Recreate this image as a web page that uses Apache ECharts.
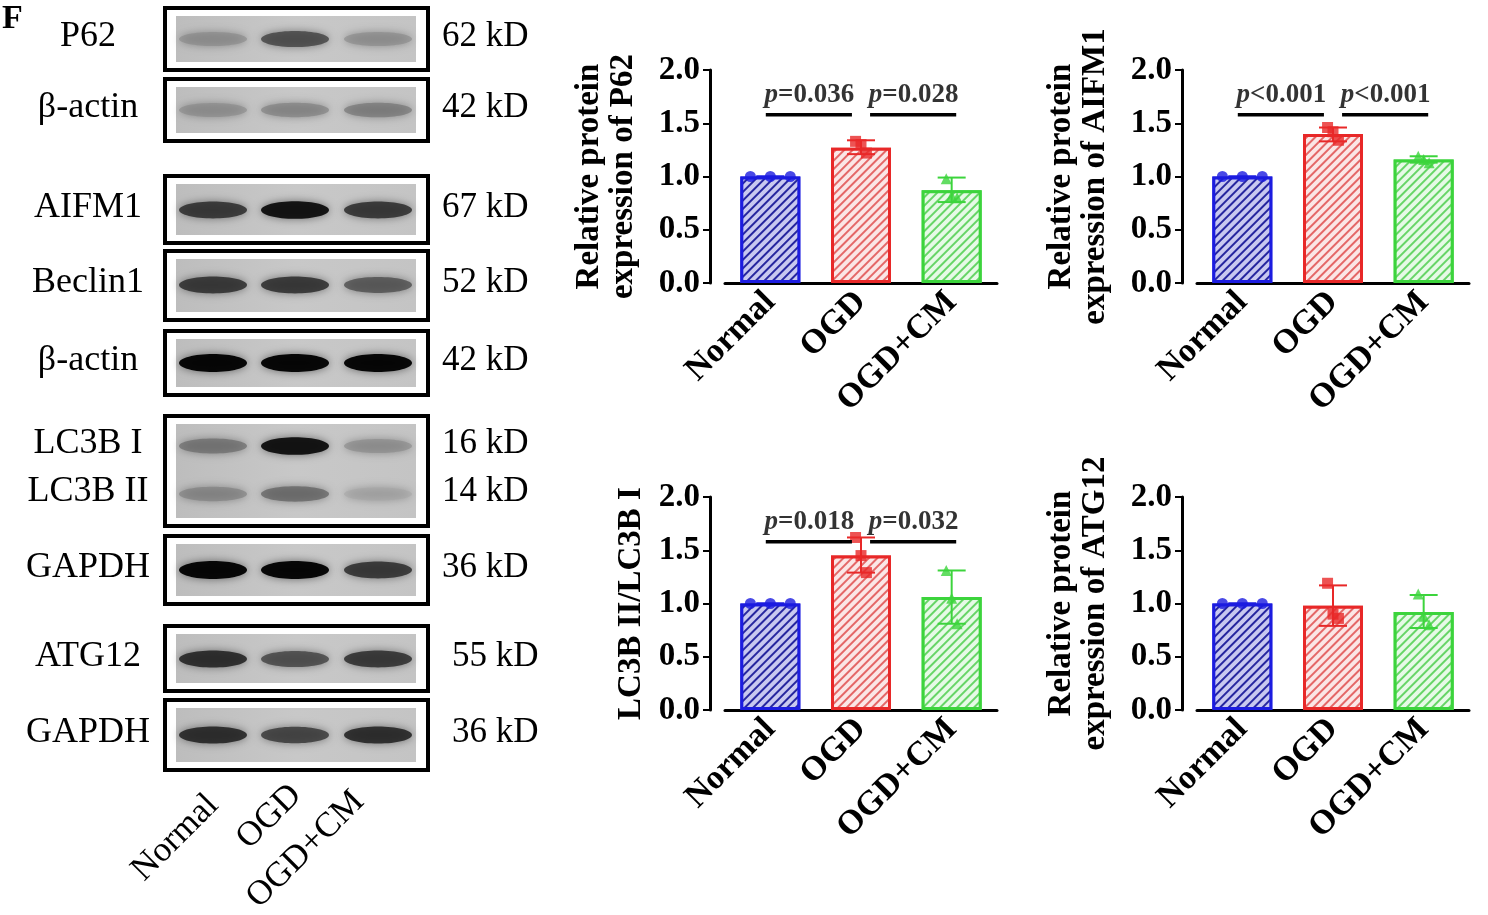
<!DOCTYPE html>
<html><head><meta charset="utf-8">
<script src="https://cdn.jsdelivr.net/npm/echarts@6/dist/echarts.min.js"></script>
<style>html,body{margin:0;padding:0;background:#fff}#c{width:1488px;height:915px}</style>
</head><body><div id="c"></div>
<script>
const categories = ['Normal', 'OGD', 'OGD+CM'];
const yTicks = [0, 0.5, 1.0, 1.5, 2.0];
// means
const p62Mean = [1.0, 1.27, 0.87];
const aifm1Mean = [1.0, 1.40, 1.16];
const lc3bMean = [1.0, 1.45, 1.06];
const atg12Mean = [1.0, 0.98, 0.92];
// SD error ranges [low, high]
const p62Err = [[1.0, 1.0], [1.21, 1.34], [0.76, 0.99]];
const aifm1Err = [[1.0, 1.0], [1.33, 1.46], [1.13, 1.19]];
const lc3bErr = [[1.0, 1.0], [1.29, 1.62], [0.81, 1.31]];
const atg12Err = [[1.0, 1.0], [0.79, 1.17], [0.77, 1.08]];
// individual points per group
const p62Pts = [[1.0, 1.0, 1.0], [1.33, 1.30, 1.22], [0.98, 0.82, 0.80]];
const aifm1Pts = [[1.0, 1.0, 1.0], [1.46, 1.42, 1.34], [1.19, 1.16, 1.13]];
const lc3bPts = [[1.0, 1.0, 1.0], [1.62, 1.45, 1.29], [1.31, 1.05, 0.81]];
const atg12Pts = [[1.0, 1.0, 1.0], [1.19, 0.90, 0.86], [1.09, 0.88, 0.80]];
// significance annotations
const p62Sig = ['=0.036', '=0.028'];
const aifm1Sig = ['<0.001', '<0.001'];
const lc3bSig = ['=0.018', '=0.032'];
const atg12Sig = [];
const sigLevel = 1.58;
// blot labels
const blotNames = ['P62', 'β-actin', 'AIFM1', 'Beclin1', 'β-actin', 'LC3B I', 'LC3B II', 'GAPDH', 'ATG12', 'GAPDH'];
const blotKD = ['62 kD', '42 kD', '67 kD', '52 kD', '42 kD', '16 kD', '14 kD', '36 kD', '55 kD', '36 kD'];
const bandIntensity = [[0.35, 0.7, 0.35], [0.35, 0.4, 0.45], [0.8, 0.95, 0.8], [0.8, 0.8, 0.65], [1, 1, 1], [0.5, 0.95, 0.35], [0.4, 0.55, 0.2], [1, 1, 0.8], [0.85, 0.7, 0.8], [0.85, 0.75, 0.85]];

const colors = ['#1c1ce0', '#e82828', '#3cd43c'];
const decalColors = ['rgba(20,20,150,0.9)', 'rgba(220,60,60,0.75)', 'rgba(60,200,60,0.75)'];
const FONT = '"Liberation Serif", "Times New Roman", serif';

const panels = [
  {mean: p62Mean, err: p62Err, pts: p62Pts, sig: p62Sig, name: 'Relative protein\nexpression of P62', left: 725, top: 70},
  {mean: aifm1Mean, err: aifm1Err, pts: aifm1Pts, sig: aifm1Sig, name: 'Relative protein\nexpression of AIFM1', left: 1197, top: 70},
  {mean: lc3bMean, err: lc3bErr, pts: lc3bPts, sig: lc3bSig, name: 'LC3B II/LC3B I', left: 725, top: 497},
  {mean: atg12Mean, err: atg12Err, pts: atg12Pts, sig: atg12Sig, name: 'Relative protein\nexpression of ATG12', left: 1197, top: 497}
];
const symbols = ['circle', 'rect', 'triangle'];
const offsets = [-0.2, 0, 0.2];

const grid = [], xAxis = [], yAxis = [], series = [];
panels.forEach((p, i) => {
  grid.push({left: p.left, top: p.top, width: 272, height: 213});
  xAxis.push({type: 'category', gridIndex: i, data: categories,
    axisLine: {onZero: false, lineStyle: {color: '#000', width: 3}},
    axisTick: {alignWithLabel: true, length: 8, lineStyle: {width: 2, color: '#000'}},
    axisLabel: {rotate: 45, fontFamily: FONT, fontWeight: 'bold', fontSize: 34, color: '#000', margin: 14}});
  xAxis.push({type: 'value', gridIndex: i, min: -0.5, max: 2.5, show: false});
  const two = p.name.includes('\n');
  yAxis.push({type: 'value', gridIndex: i, min: 0, max: 2, interval: 0.5, offset: 15,
    name: p.name, nameLocation: 'middle', nameGap: two ? 70 : 62, nameRotate: 90,
    nameTextStyle: {fontFamily: FONT, fontWeight: 'bold', fontSize: 33, color: '#000', lineHeight: 34},
    axisLine: {show: true, onZero: false, lineStyle: {color: '#000', width: 3}},
    axisTick: {show: true, length: 7, lineStyle: {width: 2, color: '#000'}},
    splitLine: {show: false},
    axisLabel: {formatter: v => v.toFixed(1), fontFamily: FONT, fontWeight: 'bold', fontSize: 33, color: '#000', margin: 10}});
  const xc = 2 * i, xv = 2 * i + 1;
  series.push({type: 'bar', xAxisIndex: xc, yAxisIndex: i, barWidth: 60,
    data: p.mean.map((v, k) => ({value: v, itemStyle: {color: '#fff', borderColor: colors[k], borderWidth: 3,
      decal: {symbol: 'rect', symbolSize: 1, dashArrayX: [[1, 0]], dashArrayY: [2, 4], rotation: -Math.PI / 4, color: decalColors[k], backgroundColor: k === 0 ? '#c8c8f0' : (k === 1 ? '#fbe6e6' : '#e6fae6')}}})),
    silent: true, z: 2});
  series.push({type: 'custom', xAxisIndex: xv, yAxisIndex: i, z: 4,
    data: p.err.map((e, k) => [k, e[0], e[1]]),
    renderItem: (params, api) => {
      const k = api.value(0);
      const lo = api.coord([k, api.value(1)]), hi = api.coord([k, api.value(2)]);
      const c = colors[k];
      return {type: 'group', children: [
        {type: 'line', shape: {x1: lo[0], y1: lo[1], x2: hi[0], y2: hi[1]}, style: {stroke: c, lineWidth: 2}},
        {type: 'line', shape: {x1: hi[0] - 14, y1: hi[1], x2: hi[0] + 14, y2: hi[1]}, style: {stroke: c, lineWidth: 2}},
        {type: 'line', shape: {x1: lo[0] - 14, y1: lo[1], x2: lo[0] + 14, y2: lo[1]}, style: {stroke: c, lineWidth: 2}}
      ]};
    }});
  for (let k = 0; k < 3; k++) {
    series.push({type: 'scatter', xAxisIndex: xv, yAxisIndex: i, z: 5, symbol: symbols[k], symbolSize: 11,
      itemStyle: {color: colors[k]},
      data: p.pts[k].map((v, j) => [k + (k === 0 ? offsets[j] * 1.1 : offsets[j] * 0.3), v])});
  }
  if (p.sig.length) {
    [[-0.05, 0.9], [1.1, 2.05]].forEach(seg => {
      series.push({type: 'line', xAxisIndex: xv, yAxisIndex: i, symbol: 'none', z: 6,
        lineStyle: {color: '#000', width: 3.5}, data: [[seg[0], sigLevel], [seg[1], sigLevel]]});
    });
    series.push({type: 'scatter', xAxisIndex: xv, yAxisIndex: i, symbolSize: 0, z: 6,
      data: [[0.43, sigLevel], [1.58, sigLevel]],
      label: {show: true, position: 'top', distance: 6,
        formatter: prm => '{i|p}{n|' + p.sig[prm.dataIndex] + '}',
        rich: {i: {fontFamily: FONT, fontStyle: 'italic', fontWeight: 'bold', fontSize: 27, color: '#000'},
               n: {fontFamily: FONT, fontWeight: 'bold', fontSize: 27, color: '#000'}}}});
  }
});

// Western blot graphics
const boxes = [
  {y: 8, h: 62}, {y: 79, h: 62}, {y: 176, h: 67}, {y: 251, h: 69},
  {y: 331, h: 64}, {y: 416, h: 110}, {y: 536, h: 68}, {y: 626, h: 65}, {y: 700, h: 70}
];
const rowY = [39, 110, 210, 285, 363, 446, 494, 570, 659, 735];
const lanes = [213, 295, 378];
const graphic = [{type: 'text', left: 2, top: 2, style: {text: 'F', font: 'bold 34px ' + FONT, fill: '#000'}}];
boxes.forEach(b => {
  graphic.push({type: 'rect', shape: {x: 165, y: b.y, width: 263, height: b.h}, style: {fill: '#fff', stroke: '#000', lineWidth: 4}, z: 1});
  graphic.push({type: 'rect', shape: {x: 176, y: b.y + 8, width: 240, height: b.h - 16},
    style: {fill: new echarts.graphic.LinearGradient(0, 0, 1, 0, [{offset: 0, color: '#bdbdbd'}, {offset: 0.5, color: '#c8c8c8'}, {offset: 1, color: '#c4c4c4'}])}, z: 2});
});
rowY.forEach((y, r) => {
  lanes.forEach((x, l) => {
    const a = bandIntensity[r][l];
    const g = Math.round(255 * (1 - a) * 0.8);
    graphic.push({type: 'ellipse', shape: {cx: x, cy: y, rx: 34, ry: 6 + a * 3},
      style: {fill: 'rgb(' + g + ',' + g + ',' + g + ')', opacity: 0.35 + 0.6 * a, shadowBlur: 8, shadowColor: 'rgba(0,0,0,0.5)'}, z: 3});
  });
  graphic.push({type: 'text', x: 88, y: y - 2, style: {text: blotNames[r], font: '36px ' + FONT, fill: '#000', textAlign: 'center', textVerticalAlign: 'middle'}, z: 4});
  graphic.push({type: 'text', x: r >= 8 ? 452 : 442, y: y - 2, style: {text: blotKD[r], font: '35px ' + FONT, fill: '#000', textVerticalAlign: 'middle'}, z: 4});
});
[['Normal', 150, 888], ['OGD', 255, 856], ['OGD+CM', 265, 915]].forEach(t => {
  graphic.push({type: 'text', x: t[1], y: t[2], rotation: Math.PI / 4, style: {text: t[0], font: '35px ' + FONT, fill: '#000', textVerticalAlign: 'bottom'}, z: 4});
});

const chart = echarts.init(document.getElementById('c'));
chart.setOption({animation: false, backgroundColor: '#fff', grid, xAxis, yAxis, series, graphic});
</script></body></html>
